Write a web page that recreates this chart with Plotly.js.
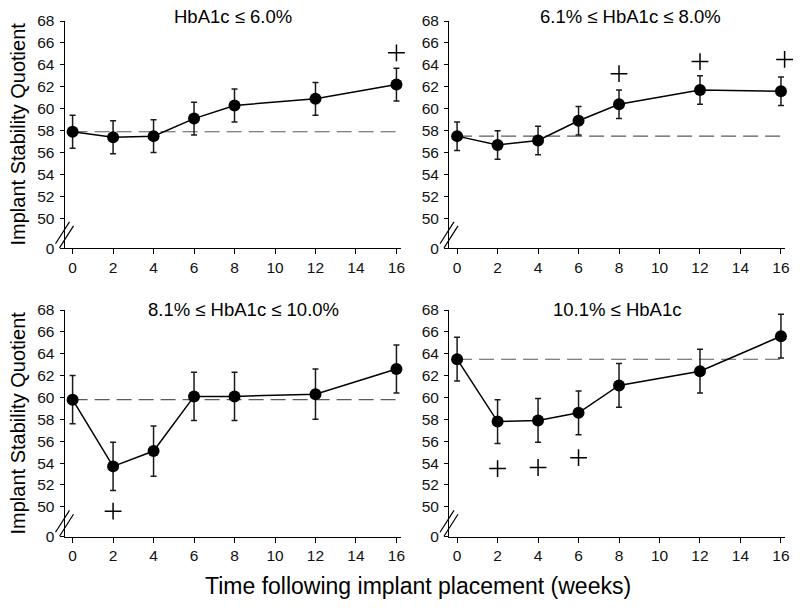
<!DOCTYPE html>
<html><head><meta charset="utf-8">
<script src="https://cdn.plot.ly/plotly-3.0.1.min.js"></script>
<style>html,body{margin:0;padding:0;background:#fff}#chart{width:800px;height:611px}</style>
</head><body><div id="chart"></div>
<script>
// ---- data ----
const weeks = [0, 2, 4, 6, 8, 12, 16];
const panelTitles = ["HbA1c \u2264 6.0%", "6.1% \u2264 HbA1c \u2264 8.0%", "8.1% \u2264 HbA1c \u2264 10.0%", "10.1% \u2264 HbA1c"];

const isqG1 = [57.9, 57.4, 57.5, 59.1, 60.3, 60.9, 62.2];
const seG1  = [1.5, 1.5, 1.5, 1.5, 1.5, 1.5, 1.5];
const isqG2 = [57.5, 56.7, 57.1, 58.9, 60.4, 61.7, 61.6];
const seG2  = [1.3, 1.3, 1.3, 1.3, 1.3, 1.3, 1.3];
const isqG3 = [59.8, 53.7, 55.1, 60.1, 60.1, 60.3, 62.6];
const seG3  = [2.2, 2.2, 2.3, 2.2, 2.2, 2.3, 2.2];
const isqG4 = [63.5, 57.8, 57.9, 58.6, 61.1, 62.4, 65.6];
const seG4  = [2.0, 2.0, 2.0, 2.0, 2.0, 2.0, 2.0];

// significance markers (+)
const plusWeeksG1 = [16];           const plusIsqG1 = [65.1];
const plusWeeksG2 = [8, 12, 16.18]; const plusIsqG2 = [63.2, 64.3, 64.5];
const plusWeeksG3 = [2];            const plusIsqG3 = [49.6];
const plusWeeksG4 = [2, 4, 6];      const plusIsqG4 = [53.5, 53.6, 54.5];

const yTickVals = [50, 52, 54, 56, 58, 60, 62, 64, 66, 68];
const yTickText = ["50", "52", "54", "56", "58", "60", "62", "64", "66", "68"];
const xTickVals = [0, 2, 4, 6, 8, 10, 12, 14, 16];
const breakLabel = "0";

// ---- build ----
const series = [
  {m: isqG1, se: seG1, px: plusWeeksG1, py: plusIsqG1},
  {m: isqG2, se: seG2, px: plusWeeksG2, py: plusIsqG2},
  {m: isqG3, se: seG3, px: plusWeeksG3, py: plusIsqG3},
  {m: isqG4, se: seG4, px: plusWeeksG4, py: plusIsqG4}
];
const Y_BOTTOM = 47.27;   // axis bottom (position of the broken-axis "0")
const X_RANGE = [-0.4, 16.2];
const axSuffix = ["", "2", "3", "4"];
const traces = [];
series.forEach((s, i) => {
  const xa = "x" + axSuffix[i], ya = "y" + axSuffix[i];
  traces.push({x: [weeks[0], weeks[weeks.length - 1]], y: [s.m[0], s.m[0]], xaxis: xa, yaxis: ya,
    mode: "lines", line: {color: "#5a5a5a", width: 1.1, dash: "15px,7px"}, hoverinfo: "skip", showlegend: false});
  traces.push({x: weeks, y: s.m, xaxis: xa, yaxis: ya, mode: "lines+markers", cliponaxis: false,
    line: {color: "#000", width: 1.5}, marker: {color: "#000", size: 12},
    error_y: {type: "data", array: s.se, visible: true, color: "#1a1a1a", thickness: 1.5, width: 3},
    hoverinfo: "skip", showlegend: false});
  traces.push({x: s.px, y: s.py, xaxis: xa, yaxis: ya, mode: "markers", cliponaxis: false,
    marker: {symbol: "cross-thin", size: 12, color: "#000", line: {color: "#000", width: 1.5}},
    hoverinfo: "skip", showlegend: false});
});

const font = "Arial, 'Liberation Sans', Helvetica, sans-serif";
const domW = 336;
const xDom = [[64.5 / 800, (64.5 + domW) / 800], [449 / 800, (449 + domW) / 800]];
const yDom = [[1 - 248.3 / 611, 1 - 21 / 611], [1 - 536.7 / 611, 1 - 310 / 611]];

function xAxis(dom, anchor) {
  return {domain: dom, anchor: anchor, range: X_RANGE, tickvals: xTickVals, ticks: "outside", ticklen: 5,
    tickwidth: 1, tickcolor: "#000", showline: true, linecolor: "#000", linewidth: 1, showgrid: false, zeroline: false,
    tickfont: {family: font, size: 15.5, color: "#111"}, fixedrange: true, automargin: false};
}
function yAxis(dom, anchor) {
  return {domain: dom, anchor: anchor, range: [Y_BOTTOM, 68], tickvals: [Y_BOTTOM].concat(yTickVals),
    ticktext: [breakLabel].concat(yTickText), ticks: "outside", ticklen: 4, tickwidth: 1, tickcolor: "#000",
    showline: true, linecolor: "#000", linewidth: 1, showgrid: false, zeroline: false,
    tickfont: {family: font, size: 15.5, color: "#111"}, fixedrange: true, automargin: false, ticklabelstandoff: 2};
}

const layout = {
  width: 800, height: 611, margin: {l: 0, r: 0, t: 0, b: 0}, paper_bgcolor: "#fff", plot_bgcolor: "rgba(0,0,0,0)",
  showlegend: false,
  xaxis: xAxis(xDom[0], "y"),  yaxis: yAxis(yDom[0], "x"),
  xaxis2: xAxis(xDom[1], "y2"), yaxis2: yAxis(yDom[0], "x2"),
  xaxis3: xAxis(xDom[0], "y3"), yaxis3: yAxis(yDom[1], "x3"),
  xaxis4: xAxis(xDom[1], "y4"), yaxis4: yAxis(yDom[1], "x4"),
  shapes: [], annotations: []
};

// axis-break slashes (pixel offsets from the y axis, converted to domain fractions)
const slashes = [[-9, 47.68, 5, 49.68], [-5, 47.31, 9, 49.32]];
for (let i = 0; i < 4; i++) {
  for (const s of slashes) {
    layout.shapes.push({type: "line", xref: "x" + axSuffix[i] + " domain", yref: "y" + axSuffix[i],
      x0: s[0] / domW, y0: s[1], x1: s[2] / domW, y1: s[3], line: {color: "#000", width: 1.2}});
  }
}

const titlePos = [[232.5, 16], [630.8, 16], [243, 309], [617, 309]];
panelTitles.forEach((t, i) => {
  layout.annotations.push({text: t, xref: "paper", yref: "paper", x: titlePos[i][0] / 800, y: 1 - titlePos[i][1] / 611,
    xanchor: "center", yanchor: "middle", showarrow: false, font: {family: font, size: 18.5, color: "#000"}});
});
[134.5, 423.5].forEach(yc => {
  layout.annotations.push({text: "Implant Stability Quotient", xref: "paper", yref: "paper", x: 17 / 800, y: 1 - yc / 611,
    xanchor: "center", yanchor: "middle", textangle: -90, showarrow: false, font: {family: font, size: 20, color: "#000"}});
});
layout.annotations.push({text: "Time following implant placement (weeks)", xref: "paper", yref: "paper",
  x: 417.5 / 800, y: 1 - 586 / 611, xanchor: "center", yanchor: "middle", showarrow: false,
  font: {family: font, size: 23, color: "#000"}});

Plotly.newPlot("chart", traces, layout, {staticPlot: true, displayModeBar: false});
</script></body></html>
